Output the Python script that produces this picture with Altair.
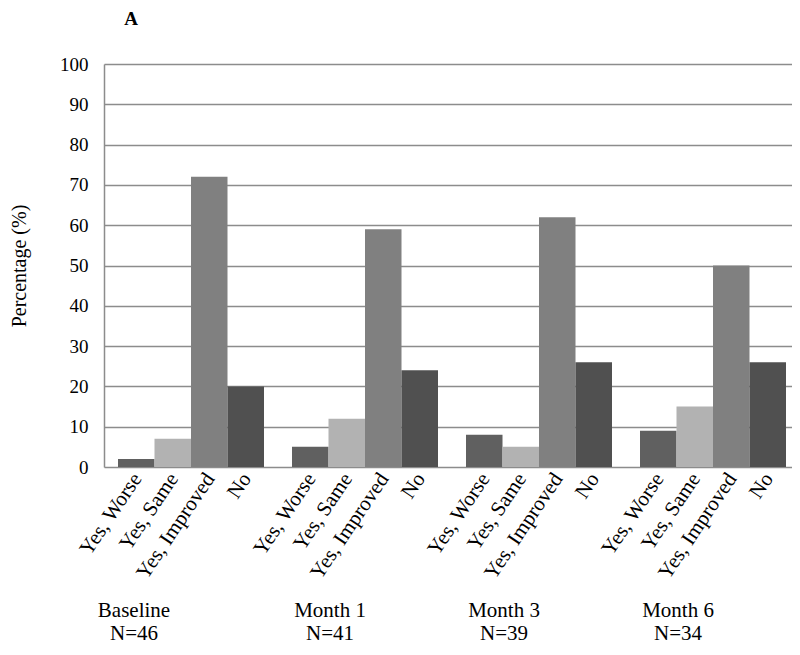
import altair as alt
import pandas as pd

groups = ["Baseline", "Month 1", "Month 3", "Month 6"]
group_n = [46, 41, 39, 34]
categories = ["Yes, Worse", "Yes, Same", "Yes, Improved", "No"]
colors = ["#606060", "#b2b2b2", "#808080", "#505050"]
panel_label = ["A"]

yes_worse = [2, 5, 8, 9]
yes_same = [7, 12, 5, 15]
yes_improved = [72, 59, 62, 50]
no = [20, 24, 26, 26]

series = [yes_worse, yes_same, yes_improved, no]
rows = []
for ci, cat in enumerate(categories):
    for gi, g in enumerate(groups):
        rows.append({"group": g, "category": cat, "value": series[ci][gi]})
df = pd.DataFrame(rows)

gdf = pd.DataFrame({"group": groups, "n": [f"N={n}" for n in group_n]})

FONT = "Liberation Serif"
GRID = "#8c8c8c"

xscale = alt.Scale(domain=groups, range=[0, 696], paddingInner=28 / 174, paddingOuter=14 / 174)
xoff = alt.XOffset("category:N", sort=categories,
                   scale=alt.Scale(domain=categories, paddingInner=0, paddingOuter=0))

bars = alt.Chart(df).mark_bar().encode(
    x=alt.X("group:N", sort=groups, scale=xscale, axis=None),
    xOffset=xoff,
    y=alt.Y("value:Q", scale=alt.Scale(domain=[0, 100], nice=False),
            axis=alt.Axis(values=list(range(0, 101, 10)), title="Percentage (%)",
                          titleFont=FONT, titleFontSize=20, titleFontWeight="normal",
                          titleColor="black", titlePadding=30,
                          labelFont=FONT, labelFontSize=19, labelColor="black",
                          labelPadding=16, ticks=False,
                          domainColor=GRID, domainWidth=1.5,
                          gridColor=GRID, gridWidth=1.5)),
    color=alt.Color("category:N", scale=alt.Scale(domain=categories, range=colors), legend=None),
)

cat_labels = alt.Chart(df).mark_text(
    angle=304, align="right", baseline="middle", font=FONT, fontSize=21, color="black", dx=2
).encode(
    x=alt.X("group:N", sort=groups, scale=xscale),
    xOffset=xoff,
    y=alt.value(413),
    text="category:N",
)

def group_text(filter_expr, field, yv, dx):
    return alt.Chart(gdf).transform_filter(filter_expr).mark_text(
        align="center", baseline="alphabetic", font=FONT, fontSize=21, color="black", dx=dx
    ).encode(
        x=alt.X("group:N", sort=groups, scale=xscale),
        y=alt.value(yv),
        text=f"{field}:N",
    )

g1 = group_text("datum.group == 'Baseline'", "group", 553, -57)
g2 = group_text("datum.group != 'Baseline'", "group", 553, -35)
n1 = group_text("datum.group == 'Baseline'", "n", 576, -57)
n2 = group_text("datum.group != 'Baseline'", "n", 576, -35)

title_a = alt.Chart(pd.DataFrame({"t": panel_label})).mark_text(
    align="center", baseline="alphabetic", font=FONT, fontSize=19, fontWeight="bold", color="black"
).encode(
    x=alt.value(27),
    y=alt.value(-39),
    text="t:N",
)

chart = alt.layer(bars, cat_labels, g1, g2, n1, n2, title_a).properties(
    width=688, height=403,
    autosize=alt.AutoSizeParams(type="none"),
    padding={"left": 96, "top": 56, "right": 0, "bottom": 180},
).configure_view(strokeWidth=0)

chart.save("out.html", embed_options={"renderer": "svg", "actions": False})
